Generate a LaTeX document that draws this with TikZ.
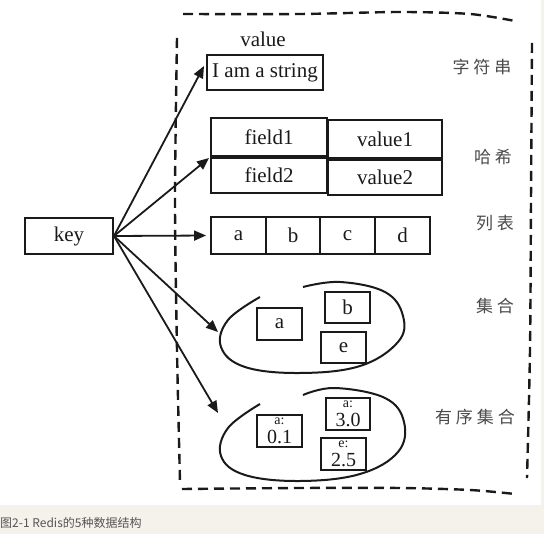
\documentclass[tikz,border=0pt]{standalone}
\usepackage{fontspec}
\setmainfont{Liberation Serif}
\newfontfamily\cjk{Noto Sans CJK SC}
\usetikzlibrary{arrows.meta}
\definecolor{band}{HTML}{F5F2EC}
\definecolor{ink}{HTML}{1A1A1A}
\definecolor{tagink}{HTML}{4A4A4A}
\definecolor{capink}{HTML}{555555}
\begin{document}
\begin{tikzpicture}[x=1pt,y=-1pt,
  cell/.style={draw=ink, line width=1.9pt, inner sep=0pt, text=ink,
    font=\fontsize{21}{22}\selectfont},
  link/.style={draw=ink, line width=1.8pt, -{Triangle[length=12pt,width=10pt]}},
  frame/.style={draw=ink, line width=2.4pt, dash pattern=on 10pt off 6pt},
  blob/.style={draw=ink, line width=2pt},
  tag/.style={text=tagink, font=\cjk\fontsize{17}{18}\selectfont},
  pair/.style={cell, align=center},
]
% page background and caption band
\useasboundingbox (0,0) rectangle (544,534);
\fill[band] (0,0) rectangle (544,534);
\fill[white] (0,0) rectangle (541,505);
\node[anchor=west, text=capink, inner sep=0pt, font=\cjk\fontsize{12}{14}\selectfont]
  (caption) at (0,523) {图2-1 Redis的5种数据结构};

% dashed frame around the value types
\draw[frame] plot[smooth] coordinates {(183,14) (300,14) (400,12) (470,14) (515,21)};
\draw[frame] plot[smooth] coordinates {(177,38) (175,200) (177,350) (180,482)};
\draw[frame] plot[smooth] coordinates {(532,43) (531,200) (530,350) (527,478)};
\draw[frame] plot[smooth] coordinates {(182,489) (300,488) (400,488) (470,490) (515,494)};

% key
\node[cell, minimum width=88pt, minimum height=36pt] (key) at (69,236) {key};

% string
\node[text=ink, font=\fontsize{21}{22}\selectfont] (vlabel) at (263,39) {value};
\node[cell, minimum width=116pt, minimum height=35pt] (str) at (265,72.5) {I am a string};

% hash
\node[cell, minimum width=116pt, minimum height=38pt] (f1) at (269,137) {field1};
\node[cell, minimum width=114pt, minimum height=38pt] (v1) at (385,139) {value1};
\node[cell, minimum width=116pt, minimum height=35pt] (f2) at (269,175.5) {field2};
\node[cell, minimum width=114pt, minimum height=35pt] (v2) at (385,177.5) {value2};

% list
\node[cell, minimum width=55pt, minimum height=37pt] (la) at (238.5,235.5) {a};
\node[cell, minimum width=54pt, minimum height=37pt] (lb) at (293,235.5) {b};
\node[cell, minimum width=55pt, minimum height=37pt] (lc) at (347.5,235.5) {c};
\node[cell, minimum width=55pt, minimum height=37pt] (ld) at (402.5,235.5) {d};

% set
\draw[blob] plot[smooth, tension=0.65] coordinates {(303,287) (340,282) (385,292) (403,316)
  (398,342) (360,366) (300,373) (245,367) (221,347) (228,320) (260,297)};
\node[cell, minimum width=45pt, minimum height=32pt] (sa) at (279.5,324) {a};
\node[cell, minimum width=45pt, minimum height=31pt] (sb) at (347.5,307.5) {b};
\node[cell, minimum width=45pt, minimum height=31pt] (se) at (343.5,347.5) {e};

% sorted set: member over score in each box
\draw[blob] plot[smooth, tension=0.65] coordinates {(303,395) (335,388) (385,398) (404,422)
  (398,452) (360,474) (300,481) (245,475) (221,456) (228,428) (260,404)};
\node[pair, minimum width=45pt, minimum height=32pt] (za) at (279.5,431)
  {\fontsize{14}{11}\selectfont a:\\[-3pt]\fontsize{20}{16}\selectfont 0.1};
\node[pair, minimum width=44pt, minimum height=32pt] (zb) at (348,414)
  {\fontsize{14}{11}\selectfont a:\\[-3pt]\fontsize{20}{16}\selectfont 3.0};
\node[pair, minimum width=45pt, minimum height=32pt] (ze) at (343.5,454)
  {\fontsize{14}{11}\selectfont e:\\[-3pt]\fontsize{20}{16}\selectfont 2.5};

% type names
\node[tag] (tstr) at (482,67) {字\hspace{4pt}符\hspace{4pt}串};
\node[tag] (thash) at (493,157) {哈\hspace{4pt}希};
\node[tag] (tlist) at (495,223) {列\hspace{4pt}表};
\node[tag] (tset) at (495,306) {集\hspace{4pt}合};
\node[tag] (tzset) at (475,417) {有\hspace{4pt}序\hspace{4pt}集\hspace{4pt}合};

% arrow end points
\coordinate (hstr) at (204,66);
\coordinate (hhash) at (209,158);
\coordinate (hset) at (218,332);
\coordinate (hzset) at (218,413);

% arrows from the key
\draw[link] (key.east) -- (hstr);
\draw[link] (key.east) -- (hhash);
\draw[link, shorten >=4pt] (key.east) -- (la.west);
\draw[link] (key.east) -- (hset);
\draw[link] (key.east) -- (hzset);
\end{tikzpicture}
\end{document}
